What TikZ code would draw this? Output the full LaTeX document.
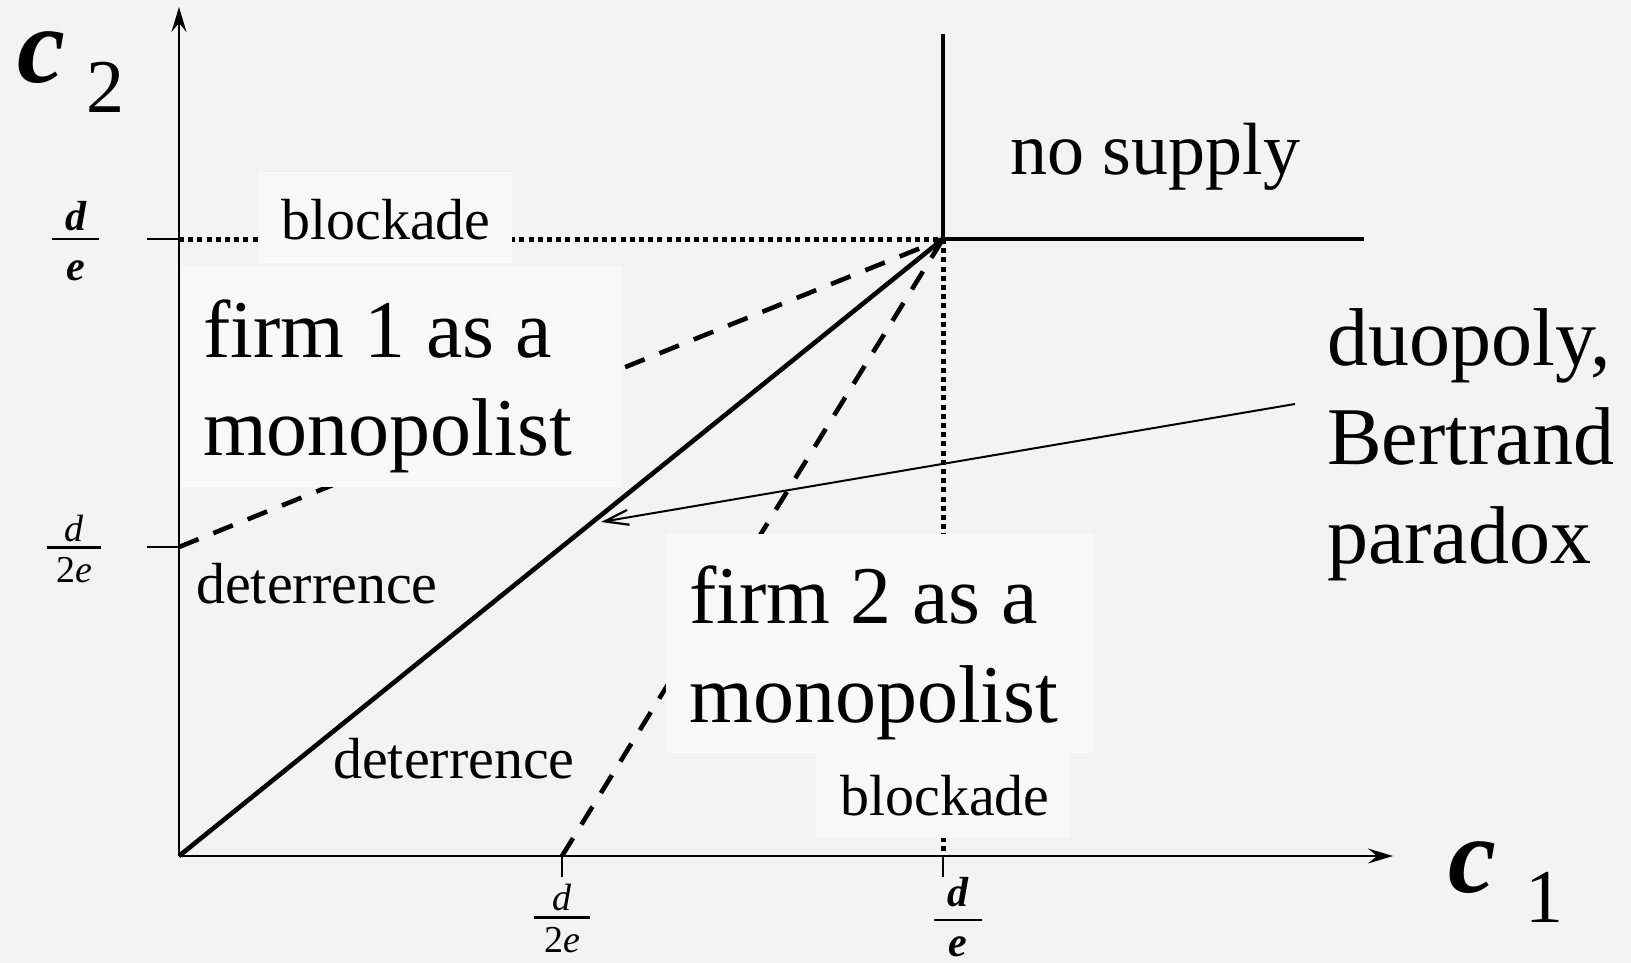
\documentclass[tikz,border=0pt]{standalone}
\usepackage{fontspec}
\setmainfont{Liberation Serif}
\newfontfamily\tnr{Liberation Serif}
\usetikzlibrary{arrows.meta}
\definecolor{bg}{RGB}{243,243,243}
\definecolor{boxc}{RGB}{248,248,248}
\begin{document}
\begin{tikzpicture}[x=1pt,y=-1pt,
  axisline/.style={line width=2.4pt},
  heavyline/.style={line width=4.6pt},
  dashline/.style={line width=4.6pt, dash pattern=on 21pt off 16pt},
  dotline/.style={line width=5pt, dash pattern=on 5pt off 4.2pt},
  tickline/.style={line width=2.4pt},
  lbox/.style={fill=boxc, draw=none},
  bigtxt/.style={anchor=base west, inner sep=0pt, font=\tnr\fontsize{82}{98}\selectfont},
  midtxt/.style={anchor=base west, inner sep=0pt, font=\tnr\fontsize{58}{70}\selectfont},
  nstxt/.style={anchor=base west, inner sep=0pt, font=\tnr\fontsize{74}{88}\selectfont},
  fracbold/.style={anchor=base, inner sep=0pt, font=\tnr\fontsize{42}{50}\selectfont\bfseries\itshape},
  fracreg/.style={anchor=base, inner sep=0pt, font=\tnr\fontsize{38}{46}\selectfont},
  axc/.style={anchor=base west, inner sep=0pt, font=\tnr\fontsize{108}{120}\selectfont\bfseries\itshape},
  axn/.style={anchor=base west, inner sep=0pt, font=\tnr\fontsize{76}{90}\selectfont},
  axarrow/.style={-{Stealth[length=25pt,width=15pt,inset=9pt]}},
  pointer/.style={line width=2pt, -{Straight Barb[length=24pt,width=15pt,line width=2.2pt]}}
]
\useasboundingbox (0,0) rectangle (1631,963);
\fill[bg] (0,0) rectangle (1631,963);

% key points
\coordinate (O) at (179,856);
\coordinate (C) at (943,239);
\coordinate (Y1) at (179,547);
\coordinate (YC) at (179,239);
\coordinate (X1) at (562,856);
\coordinate (XC) at (943,856);
\coordinate (xend) at (1393,856);
\coordinate (yend) at (179,7);
\coordinate (nsTop) at (943,34);
\coordinate (nsRight) at (1364,239);
\coordinate (arrS) at (1295,404);
\coordinate (arrT) at (601,522);

% dotted boundaries
\draw[dotline] (YC) -- (C);
\draw[dotline] (C) -- (XC);
% dashed boundaries
\draw[dashline] (Y1) -- (C);
\draw[dashline] (X1) -- (C);
% diagonal
\draw[heavyline] (O) -- (C);
% no supply boundary
\draw[heavyline] (nsTop) -- (C) -- (nsRight);

% axes
\draw[axisline, axarrow] (O) -- (xend);
\draw[axisline, axarrow] (O) -- (yend);
% ticks
\coordinate (tY1a) at (147,547);
\coordinate (tYCa) at (147,239);
\coordinate (tX1b) at (562,877);
\coordinate (tXCb) at (943,877);
\draw[tickline] (tY1a) -- (Y1);
\draw[tickline] (tYCa) -- (YC);
\draw[tickline] (X1) -- (tX1b);
\draw[tickline] (XC) -- (tXCb);

% label boxes
\fill[lbox] (258,172) rectangle (512,263);
\fill[lbox] (182,266) rectangle (622,487);
\fill[lbox] (666,534) rectangle (1094,753);
\fill[lbox] (816,753) rectangle (1070,838);

% texts
\node[midtxt] (blk1) at (281,239) {blockade};
\node[bigtxt] (f1a) at (203,357) {firm 1 as a};
\node[bigtxt] (f1b) at (203,455) {monopolist};
\node[midtxt] (det1) at (196,603) {deterrence};
\node[midtxt] (det2) at (333,778) {deterrence};
\node[bigtxt] (f2a) at (689,623) {firm 2 as a};
\node[bigtxt] (f2b) at (689,722) {monopolist};
\node[midtxt] (blk2) at (840,815) {blockade};
\node[nstxt] (nosup) at (1010,175) {no supply};
\node[bigtxt] (duo1) at (1327,365) {duopoly,};
\node[bigtxt] (duo2) at (1327,464) {Bertrand};
\node[bigtxt] (duo3) at (1327,563) {paradox};

% arrow to diagonal
\draw[pointer] (arrS) -- (arrT);

% axis labels
\node[axc] (c2c) at (17,83) {c};
\node[axn] (c2n) at (86,113) {2};
\node[axc] (c1c) at (1448,892) {c};
\node[axn] (c1n) at (1525,922) {1};

% fractions on the c2 axis
\node[fracbold] (yden) at (76,230) {d};
\draw[line width=2.2pt] (52,239) -- (99,239);
\node[fracbold] (ydee) at (76,280) {e};
\node[fracreg] (y2d) at (74,541) {\itshape d};
\draw[line width=3pt] (47,547) -- (101,547);
\node[fracreg] (y2e) at (74,582) {2\itshape e};

% fractions on the c1 axis
\node[fracreg] (x2d) at (562,910) {\itshape d};
\draw[line width=3pt] (534,917) -- (590,917);
\node[fracreg] (x2e) at (562,952) {2\itshape e};
\node[fracbold] (xd) at (958,906) {d};
\draw[line width=2.2pt] (934,920) -- (982,920);
\node[fracbold] (xe) at (958,956) {e};
\end{tikzpicture}
\end{document}
